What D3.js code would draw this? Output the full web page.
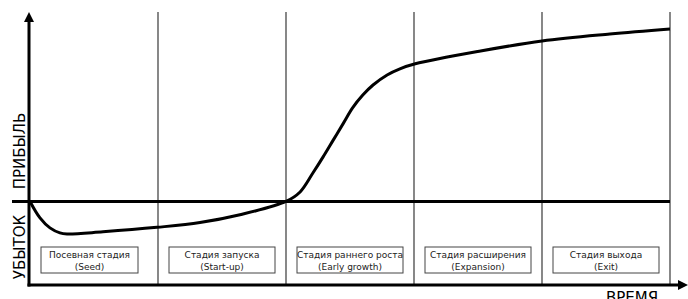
<!DOCTYPE html>
<html>
<head>
<meta charset="utf-8">
<script src="https://cdn.jsdelivr.net/npm/d3@7"></script>
<style>
  body { margin: 0; background: #fff; }
  text { font-family: "DejaVu Sans", Verdana, sans-serif; }
</style>
</head>
<body>
<div id="chart"></div>
<script>
var width = 688, height = 299;

// stages along the time axis
var stageRu = ['Посевная стадия', 'Стадия запуска', 'Стадия раннего роста', 'Стадия расширения', 'Стадия выхода'];
var stageEn = ['(Seed)', '(Start-up)', '(Early growth)', '(Expansion)', '(Exit)'];

// profit curve (time in stage units, profit in arbitrary units)
var curveT = [0, 0.078, 0.156, 0.234, 0.289, 0.57, 0.992, 1.328, 1.64, 2.0, 2.11, 2.21, 2.29, 2.37, 2.45, 2.52, 2.6, 2.68, 2.79, 2.89, 3.01, 3.52, 4.0, 4.53, 5.0];
var curveV = [0, -5.9, -9.5, -11.3, -11.7, -10.9, -9.3, -7.6, -4.8, 0, 3.4, 10.2, 16.0, 22.1, 28.2, 33.6, 38.2, 41.8, 45.4, 47.6, 49.4, 54.0, 57.6, 60.1, 61.9];

var axisLabels = {profit: 'ПРИБЫЛЬ', loss: 'УБЫТОК', time: 'ВРЕМЯ'};

var x = d3.scaleLinear().domain([0, 5]).range([30, 670]);
var y = d3.scaleLinear().domain([-30, 68]).range([285, 12]);

var svg = d3.select('#chart').append('svg')
  .attr('width', width)
  .attr('height', height);

// stage dividers
svg.selectAll('line.div')
  .data(d3.range(1, 6)).enter()
  .append('line').attr('class', 'div')
    .attr('x1', function(d) {return x(d);})
    .attr('x2', function(d) {return x(d);})
    .attr('y1', y.range()[1])
    .attr('y2', y.range()[0])
    .attr('stroke', '#555')
    .attr('stroke-width', 1.4);

// stage boxes
var boxes = svg.selectAll('g.box')
  .data(stageRu).enter()
  .append('g').attr('class', 'box');
boxes.append('rect')
  .attr('x', function(d, i) {return x(i) + 11;})
  .attr('y', 247)
  .attr('width', function(d, i) {return i == 0 ? 97 : 106;})
  .attr('height', 26)
  .attr('fill', 'none')
  .attr('stroke', '#444')
  .attr('stroke-width', 1);
boxes.append('text')
  .attr('x', function(d, i) {return i == 0 ? x(i) + 59.5 : x(i + 0.5);})
  .attr('y', 257.5)
  .attr('text-anchor', 'middle')
  .attr('font-size', 9)
  .attr('fill', '#222')
  .text(function(d) {return d;});
boxes.append('text')
  .attr('x', function(d, i) {return i == 0 ? x(i) + 59.5 : x(i + 0.5);})
  .attr('y', 269.5)
  .attr('text-anchor', 'middle')
  .attr('font-size', 9)
  .attr('fill', '#222')
  .text(function(d, i) {return stageEn[i];});

// zero line
svg.append('line')
  .attr('x1', 12).attr('x2', x(5))
  .attr('y1', y(0)).attr('y2', y(0))
  .attr('stroke', '#000').attr('stroke-width', 3);

// axes with arrows
svg.append('line')
  .attr('x1', x(0) - 1).attr('x2', x(0) - 1)
  .attr('y1', y.range()[0] + 1.5).attr('y2', 20)
  .attr('stroke', '#000').attr('stroke-width', 3);
svg.append('path')
  .attr('d', 'M' + (x(0) - 6) + ',22L' + (x(0) - 1) + ',12L' + (x(0) + 4) + ',22Z')
  .attr('fill', '#000');
svg.append('line')
  .attr('x1', x(0) - 2.5).attr('x2', 680)
  .attr('y1', y.range()[0]).attr('y2', y.range()[0])
  .attr('stroke', '#000').attr('stroke-width', 3);
svg.append('path')
  .attr('d', 'M678,' + (y.range()[0] - 5) + 'L688,' + y.range()[0] + 'L678,' + (y.range()[0] + 5) + 'Z')
  .attr('fill', '#000');

// profit curve
var line = d3.line()
  .x(function(d, i) {return x(curveT[i]);})
  .y(function(d) {return y(d);})
  .curve(d3.curveCatmullRom.alpha(0.5));
svg.append('path')
  .datum(curveV)
  .attr('d', line)
  .attr('fill', 'none')
  .attr('stroke', '#000')
  .attr('stroke-width', 3);

// axis labels
svg.append('text')
  .attr('transform', 'translate(25,' + 151 + ') rotate(-90)')
  .attr('text-anchor', 'middle')
  .attr('font-size', 15)
  .text(axisLabels.profit);
svg.append('text')
  .attr('transform', 'translate(25,' + 247 + ') rotate(-90)')
  .attr('text-anchor', 'middle')
  .attr('font-size', 15)
  .text(axisLabels.loss);
svg.append('text')
  .attr('x', 632).attr('y', 303)
  .attr('text-anchor', 'middle')
  .attr('font-size', 15)
  .text(axisLabels.time);
</script>
</body>
</html>
